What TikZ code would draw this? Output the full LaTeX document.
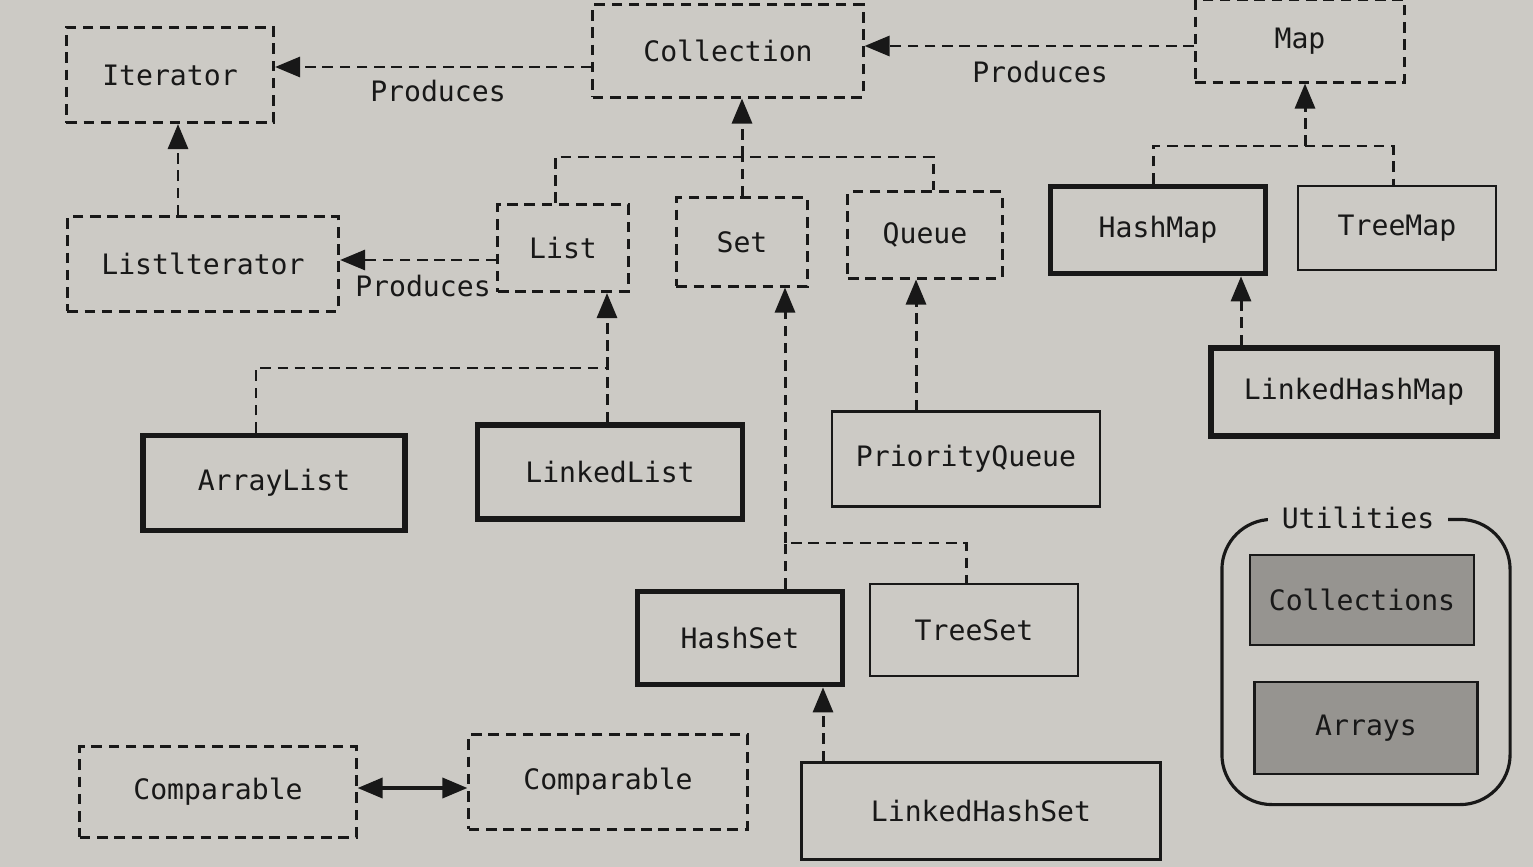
\documentclass[tikz,border=0pt]{standalone}
\usepackage{fontspec}
\setmonofont{DejaVu Sans Mono}
\usetikzlibrary{arrows.meta}
\definecolor{paper}{RGB}{204,202,197}
\definecolor{ink}{RGB}{24,24,24}
\definecolor{boxgray}{RGB}{150,148,144}
\begin{document}
\begin{tikzpicture}[x=0.01cm,y=-0.01cm,
  base/.style={font=\ttfamily\fontsize{8}{9.5}\selectfont, text=ink, inner sep=0pt, anchor=center},
  iface/.style={base, draw=ink, line width=0.85pt, dash pattern=on 3pt off 1.9pt},
  impl/.style={base, draw=ink, line width=1.6pt},
  plain/.style={base, draw=ink, line width=0.8pt},
  util/.style={base, draw=ink, line width=0.7pt, fill=boxgray},
  conn/.style={draw=ink, line width=0.85pt, dash pattern=on 3pt off 1.9pt},
  arr/.style={conn, -{Triangle[length=0.25cm,width=0.2cm]}},
  lbl/.style={font=\ttfamily\fontsize{8}{9.5}\selectfont, text=ink}
]
\fill[paper] (0,0) rectangle (1533,867);
\useasboundingbox (0,0) rectangle (1533,867);

\node[iface, minimum width=2.07cm, minimum height=0.95cm] (itr) at (170,75) {Iterator};
\node[iface, minimum width=2.70cm, minimum height=0.92cm] (col) at (728,51) {Collection};
\node[iface, minimum width=2.09cm, minimum height=0.82cm] (map) at (1300,41) {Map};
\node[iface, minimum width=2.71cm, minimum height=0.94cm] (li) at (203,264) {Listlterator};
\node[iface, minimum width=1.30cm, minimum height=0.87cm] (list) at (563,248) {List};
\node[iface, minimum width=1.31cm, minimum height=0.88cm] (set) at (742,242) {Set};
\node[iface, minimum width=1.54cm, minimum height=0.86cm] (queue) at (925,235) {Queue};
\node[impl, minimum width=2.15cm, minimum height=0.87cm] (hm) at (1158,230) {HashMap};
\node[plain, minimum width=1.98cm, minimum height=0.84cm] (tm) at (1397,228) {TreeMap};
\node[impl, minimum width=2.86cm, minimum height=0.88cm] (lhm) at (1354,392) {LinkedHashMap};
\node[impl, minimum width=2.62cm, minimum height=0.95cm] (al) at (274,483) {ArrayList};
\node[impl, minimum width=2.65cm, minimum height=0.94cm] (ll) at (610,472) {LinkedList};
\node[plain, minimum width=2.68cm, minimum height=0.95cm] (pq) at (966,459) {PriorityQueue};
\node[impl, minimum width=2.05cm, minimum height=0.93cm] (hs) at (740,638) {HashSet};
\node[plain, minimum width=2.08cm, minimum height=0.92cm] (ts) at (974,630) {TreeSet};
\node[plain, minimum width=3.59cm, minimum height=0.97cm] (lhs) at (981,811) {LinkedHashSet};
\node[iface, minimum width=2.76cm, minimum height=0.90cm] (cmp1) at (218,792) {Comparable};
\node[iface, minimum width=2.78cm, minimum height=0.94cm] (cmp2) at (608,782) {Comparable};

\node[draw=ink, line width=0.9pt, rounded corners=0.5cm, minimum width=2.88cm, minimum height=2.85cm, inner sep=0pt] (utl) at (1366,662) {};
\node[lbl, fill=paper, inner xsep=4pt, inner ysep=1pt] (utlt) at (1358,518) {Utilities};
\node[util, minimum width=2.24cm, minimum height=0.90cm] (cols) at (1362,600) {Collections};
\node[util, minimum width=2.23cm, minimum height=0.92cm] (arrs) at (1366,728) {Arrays};

% Produces
\draw[arr] (col.west |- 0,67) -- (itr.east |- 0,67);
\node[lbl] (p1) at (438,91) {Produces};
\draw[arr] (map.west |- 0,46) -- (col.east |- 0,46);
\node[lbl] (p2) at (1040,72) {Produces};
\draw[arr] (list.west |- 0,260) -- (li.east |- 0,260);
\node[lbl] (p3) at (423,286) {Produces};
\draw[arr] (li.north -| 178,0) -- (itr.south -| 178,0);

% Collection tree
\coordinate (cj) at (742,157);
\draw[conn] (list.north -| 555,0) |- (cj) -| (queue.north -| 933,0);
\draw[conn] (set.north) -- (cj);
\draw[arr] (cj) -- (col.south -| cj);

% List tree
\coordinate (lj) at (607,368);
\draw[conn] (al.north -| 256,0) |- (lj);
\draw[conn] (ll.north -| lj) -- (lj);
\draw[arr] (lj) -- (list.south -| lj);

% Set tree
\coordinate (sj) at (785,543);
\draw[conn] (hs.north -| sj) -- (sj) -| (ts.north -| 966,0);
\draw[arr] (sj) -- (set.south -| sj);

% Queue
\draw[arr] (pq.north -| 916,0) -- (queue.south -| 916,0);

% Map tree
\coordinate (mj) at (1305,146);
\draw[conn] (hm.north -| 1153,0) |- (mj) -| (tm.north -| 1393,0);
\draw[arr] (mj) -- (map.south -| mj);
\draw[arr] (lhm.north -| 1241,0) -- (hm.south -| 1241,0);

% LinkedHashSet
\draw[arr] (lhs.north -| 823,0) -- (hs.south -| 823,0);

% Comparable
\draw[draw=ink, line width=1pt, {Triangle[length=0.25cm,width=0.2cm]}-{Triangle[length=0.25cm,width=0.2cm]}] (cmp1.east |- 0,788) -- (cmp2.west |- 0,788);
\end{tikzpicture}
\end{document}
